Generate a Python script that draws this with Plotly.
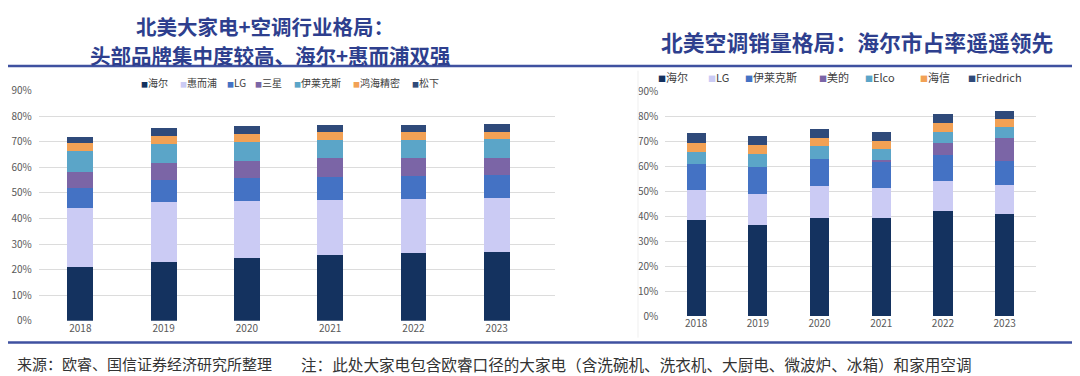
import plotly.graph_objects as go

W, H = 1080, 376

years = ["2018", "2019", "2020", "2021", "2022", "2023"]

# Left chart: North America major appliances + AC brand shares (%)
left_names = ["海尔", "惠而浦", "LG", "三星", "伊莱克斯", "鸿海精密", "松下"]
haier_l      = [21.2, 22.8, 24.6, 25.8, 26.5, 26.8]
whirlpool_l  = [22.9, 23.8, 22.3, 21.3, 21.0, 21.3]
lg_l         = [7.8, 8.5, 9.1, 9.3, 9.1, 8.8]
samsung_l    = [6.4, 6.6, 6.6, 7.2, 6.9, 6.9]
electrolux_l = [8.2, 7.5, 7.3, 7.2, 7.2, 7.3]
foxconn_l    = [2.9, 3.2, 3.2, 3.0, 3.2, 2.9]
panasonic_l  = [2.6, 2.9, 3.2, 2.9, 2.9, 3.1]
left_values = [haier_l, whirlpool_l, lg_l, samsung_l, electrolux_l, foxconn_l, panasonic_l]

# Right chart: North America AC sales volume shares (%)
right_names = ["海尔", "LG", "伊莱克斯", "美的", "Elco", "海信", "Friedrich"]
haier_r      = [38.3, 36.4, 39.3, 39.3, 42.2, 40.8]
lg_r         = [12.0, 12.4, 12.9, 12.1, 12.0, 11.6]
electrolux_r = [10.4, 10.7, 10.5, 10.1, 10.2, 9.7]
midea_r      = [0.0, 0.0, 0.0, 1.0, 4.8, 9.3]
elco_r       = [5.1, 5.4, 5.4, 4.4, 4.6, 4.1]
hisense_r    = [3.6, 3.4, 3.3, 3.2, 3.5, 3.2]
friedrich_r  = [3.9, 3.8, 3.6, 3.6, 3.6, 3.3]
right_values = [haier_r, lg_r, electrolux_r, midea_r, elco_r, hisense_r, friedrich_r]

left_colors = ["#14325f", "#cbcbf4", "#4472c4", "#7b65a6", "#5ba5c8", "#f2a155", "#2f4a7a"]
right_colors = ["#14325f", "#cbcbf4", "#4472c4", "#7b65a6", "#5ba5c8", "#f2a155", "#2f4a7a"]

title_left_1 = "北美大家电+空调行业格局："
title_left_2 = "头部品牌集中度较高、海尔+惠而浦双强"
title_right = "北美空调销量格局：海尔市占率遥遥领先"
footer_src = "来源：欧睿、国信证券经济研究所整理"
footer_note = "注：此处大家电包含欧睿口径的大家电（含洗碗机、洗衣机、大厨电、微波炉、冰箱）和家用空调"

# Legend entry x positions (px, left edge of the square marker)
left_legend_x = [131, 170, 217, 245, 284, 343, 402]
right_legend_x = [648, 698, 735, 809, 855, 910, 958]

CJK = "Noto Sans CJK SC"
TITLE_COLOR = "#2e3f8e"
LINE_COLOR = "#3f51a0"

def px_x(x):
    return x / W

def px_y(y):
    return 1 - y / H

fig = go.Figure()

for name, vals, col in zip(left_names, left_values, left_colors):
    fig.add_trace(go.Bar(
        x=years, y=[v / 100 for v in vals], name=name,
        marker=dict(color=col, line=dict(width=0)),
        xaxis="x", yaxis="y", showlegend=False,
        hovertemplate=name + " %{x}: %{y:.1%}<extra></extra>",
    ))

for name, vals, col in zip(right_names, right_values, right_colors):
    fig.add_trace(go.Bar(
        x=years, y=[v / 100 for v in vals], name=name,
        marker=dict(color=col, line=dict(width=0)),
        xaxis="x2", yaxis="y2", showlegend=False,
        hovertemplate=name + " %{x}: %{y:.1%}<extra></extra>",
    ))

tick_font = dict(family=CJK, size=10, color="#595959")
grid = "#dcdcdc"

fig.update_layout(
    width=W, height=H,
    margin=dict(l=0, r=0, t=0, b=0),
    paper_bgcolor="white", plot_bgcolor="white",
    barmode="stack", bargap=0.69,
    font=dict(family=CJK),
    xaxis=dict(domain=[px_x(30.7), px_x(547)], range=[-0.5, 5.7],
               showgrid=False, showline=False, ticks="", tickfont=tick_font,
               anchor="y"),
    yaxis=dict(domain=[px_y(317.3), px_y(77.9)], range=[0, 0.9],
               dtick=0.1, tickformat=".0%", showgrid=True, gridcolor=grid,
               gridwidth=1, zeroline=False, showline=False, tickfont=tick_font,
               ticks="", ticklabelstandoff=6, anchor="x"),
    xaxis2=dict(domain=[px_x(657.3), px_x(1027.5)], range=[-0.5, 5.5],
                showgrid=False, showline=False, ticks="", tickfont=tick_font,
                anchor="y2"),
    yaxis2=dict(domain=[px_y(312.5), px_y(78.4)], range=[0, 0.9],
                dtick=0.1, tickformat=".0%", showgrid=True, gridcolor=grid,
                gridwidth=1, zeroline=False, showline=False, tickfont=tick_font,
                ticks="", ticklabelstandoff=6, anchor="x2"),
    showlegend=False,
)

title_font = dict(family=CJK, size=20.5, color=TITLE_COLOR, weight="bold")
annotations = [
    dict(text=title_left_1, x=px_x(257), y=px_y(10.8), xref="paper", yref="paper",
         xanchor="center", yanchor="middle", showarrow=False, borderpad=0,
         font=title_font),
    dict(text=title_left_2, x=px_x(262), y=px_y(40.6), xref="paper", yref="paper",
         xanchor="center", yanchor="middle", showarrow=False, borderpad=0,
         font=title_font),
    dict(text=title_right, x=px_x(849), y=px_y(27), xref="paper", yref="paper",
         xanchor="center", yanchor="middle", showarrow=False,
         font=dict(family=CJK, size=21.8, color=TITLE_COLOR, weight="bold")),
    dict(text=footer_src, x=px_x(7), y=px_y(362), xref="paper", yref="paper",
         xanchor="left", yanchor="middle", showarrow=False,
         font=dict(family=CJK, size=15, color="#333333")),
    dict(text=footer_note, x=px_x(291), y=px_y(362), xref="paper", yref="paper",
         xanchor="left", yanchor="middle", showarrow=False,
         font=dict(family=CJK, size=15.6, color="#333333")),
]

def legend_entries(names, colors, xs, y, size):
    out = []
    for name, col, x in zip(names, colors, xs):
        out.append(dict(
            text='<span style="color:%s;font-size:%dpx">■</span>%s' % (col, size - 3, name),
            x=px_x(x), y=px_y(y), xref="paper", yref="paper",
            xanchor="left", yanchor="middle", showarrow=False,
            font=dict(family=CJK, size=size, color="#404040")))
    return out

annotations += legend_entries(left_names, left_colors, left_legend_x, 69, 10)
annotations += legend_entries(right_names, right_colors, right_legend_x, 64, 11)
fig.update_layout(annotations=annotations)

shapes = [
    dict(type="line", xref="paper", yref="paper", x0=0, x1=1,
         y0=px_y(52), y1=px_y(52), line=dict(color=LINE_COLOR, width=2.5)),
    dict(type="line", xref="paper", yref="paper", x0=0, x1=1,
         y0=px_y(340), y1=px_y(340), line=dict(color=LINE_COLOR, width=2.5)),
    dict(type="line", xref="paper", yref="paper", x0=px_x(630), x1=px_x(630),
         y0=px_y(57), y1=px_y(335), line=dict(color="#efefef", width=1)),
]
fig.update_layout(shapes=shapes)

fig.write_html("out.html")
